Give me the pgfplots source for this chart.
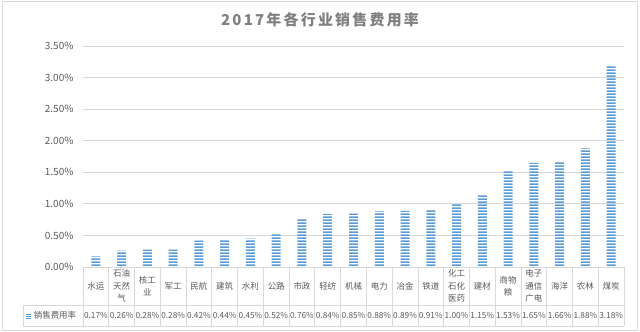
\documentclass[border=0pt]{standalone}
\usepackage{fontspec}
\setmainfont{Noto Sans CJK SC}
\usepackage{pgfplots}
\pgfplotsset{compat=1.18}
\usetikzlibrary{patterns.meta}
\definecolor{barblue}{HTML}{5B9BD5}
\definecolor{txt}{HTML}{595959}
\definecolor{ttl}{HTML}{7F7F7F}
\definecolor{gridc}{HTML}{D9D9D9}
\pgfdeclarepattern{
  name=hbars,
  type=uncolored,
  bottom left={\pgfpoint{0bp}{0bp}},
  top right={\pgfpoint{700bp}{3bp}},
  tile size={\pgfpoint{700bp}{3bp}},
  code={\pgfpathrectangle{\pgfpoint{0bp}{0bp}}{\pgfpoint{700bp}{2bp}}\pgfusepath{fill}}
}
\pgfdeclarepattern{
  name=hbarsmall,
  type=uncolored,
  bottom left={\pgfpoint{0bp}{0bp}},
  top right={\pgfpoint{700bp}{2bp}},
  tile size={\pgfpoint{700bp}{2bp}},
  code={\pgfpathrectangle{\pgfpoint{0bp}{0bp}}{\pgfpoint{700bp}{1.2bp}}\pgfusepath{fill}}
}
\begin{document}
\begin{tikzpicture}[x=1bp,y=1bp]
\path[use as bounding box] (-83,-64) rectangle (557,267);
\draw[gridc, line width=0.8bp] (-80.5,-63) rectangle (554.5,265.5);
\begin{axis}[
 at={(0,0)}, anchor=south west, scale only axis, width=541bp, height=221bp,
 xmin=-0.5, xmax=20.5, ymin=0, ymax=3.5,
 axis line style={draw=none}, major tick length=0pt,
 ymajorgrids, grid style={gridc, line width=0.8bp},
 ytick={0,0.5,...,3.5},
 /pgf/number format/assume math mode=true,
 yticklabel={\pgfmathprintnumber[fixed,fixed zerofill,precision=2]{\tick}\%},
 yticklabel style={font=\fontsize{10}{12}\selectfont, text=txt, xshift=-6bp},
 xtick={0,...,20},
 xticklabels={水运,{石油\\天然\\气},{核工\\业},军工,民航,建筑,水利,公路,市政,轻纺,机械,电力,冶金,铁道,{化工\\石化\\医药},建材,{商物\\粮},{电子\\通信\\广电},海洋,农林,煤炭},
 xticklabel style={align=center, anchor=center, yshift=-19bp, font=\fontsize{8.5}{12.5}\selectfont, text=txt},
 clip=false,
]
\addplot[ybar, bar width=9bp, draw=none, pattern=hbars, pattern color=barblue,
 visualization depends on={rawy \as \ry},
 nodes near coords={\pgfmathprintnumber[fixed,fixed zerofill,precision=2]{\pgfplotspointmeta}\%},
 nodes near coords style={anchor=center, yshift={-\ry*63.142857bp-48.5bp}, font=\fontsize{8.3}{10}\selectfont, text=txt, inner sep=0pt},
] coordinates {(0,0.17) (1,0.26) (2,0.28) (3,0.28) (4,0.42) (5,0.44) (6,0.45) (7,0.52) (8,0.76) (9,0.84) (10,0.85) (11,0.88) (12,0.89) (13,0.91) (14,1.00) (15,1.15) (16,1.53) (17,1.65) (18,1.66) (19,1.88) (20,3.18)};
\end{axis}
\draw[gridc, line width=0.8bp] (-60,-38) -- (541,-38) (-60,-59) -- (541,-59) (-60,-38) -- (-60,-59);
\foreach \i in {0,...,21} \draw[gridc, line width=0.8bp] ({\i*541/21},0) -- ({\i*541/21},-59);
\fill[pattern=hbarsmall, pattern color=barblue] (-57,-51) rectangle (-52,-46);
\node[font=\fontsize{8.5}{10}\selectfont, text=txt] at (-28,-48.5) {销售费用率};
\node[font=\fontsize{15}{18}\selectfont\bfseries\addfontfeature{LetterSpace=15}, text=ttl] at (237,247) {2017年各行业销售费用率};
\end{tikzpicture}
\end{document}
